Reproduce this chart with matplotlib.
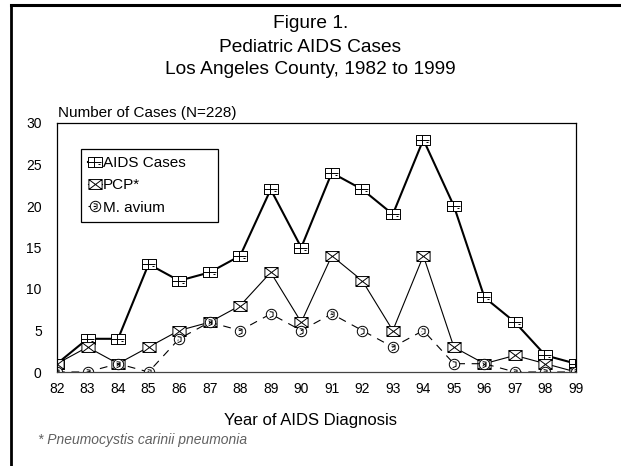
import numpy as np
import matplotlib
matplotlib.use('Agg')
from matplotlib import pyplot as plt
from matplotlib.path import Path
from matplotlib.lines import Line2D

plt.rcParams['font.family'] = ['Liberation Sans', 'DejaVu Sans']

years = [82, 83, 84, 85, 86, 87, 88, 89, 90, 91, 92, 93, 94, 95, 96, 97, 98, 99]
aids_cases = [1, 4, 4, 13, 11, 12, 14, 22, 15, 24, 22, 19, 28, 20, 9, 6, 2, 1]
pcp = [1, 3, 1, 3, 5, 6, 8, 12, 6, 14, 11, 5, 14, 3, 1, 2, 1, 0]
m_avium = [0, 0, 1, 0, 4, 6, 5, 7, 5, 7, 5, 3, 5, 1, 1, 0, 0, 0]
y_ticks = [0, 5, 10, 15, 20, 25, 30]

# custom markers roughly like the old spreadsheet glyphs
sq = [(-1, -0.75), (1, -0.75), (1, 0.75), (-1, 0.75), (-1, -0.75)]
box_x = Path(sq + [(-1, -0.75), (1, 0.75), (-1, 0.75), (1, -0.75)],
             [Path.MOVETO] + [Path.LINETO] * 4 + [Path.MOVETO, Path.LINETO, Path.MOVETO, Path.LINETO])
box_tick = Path(sq + [(-1, 0.0), (0.9, 0.0), (-0.1, 0.75), (-0.1, -0.75), (0.5, -0.3), (0.8, -0.3)],
                [Path.MOVETO] + [Path.LINETO] * 4 + [Path.MOVETO, Path.LINETO, Path.MOVETO, Path.LINETO,
                                                     Path.MOVETO, Path.LINETO])
circ = Path.unit_circle()
hook = Path([(-0.35, 0.55), (0.3, 0.45), (0.3, -0.35), (-0.35, -0.6)],
            [Path.MOVETO, Path.LINETO, Path.LINETO, Path.LINETO])
circ_hook = Path.make_compound_path(circ, hook)

fig = plt.figure(figsize=(6.21, 4.66), dpi=100)
# frame of the page: top and left edge only are visible
fig.add_artist(Line2D([11 / 621, 11 / 621], [0, 1 - 5 / 466], transform=fig.transFigure,
                      color='black', linewidth=2))
fig.add_artist(Line2D([11 / 621, 1], [1 - 5 / 466, 1 - 5 / 466], transform=fig.transFigure,
                      color='black', linewidth=2.2))

ax = fig.add_axes([57 / 621, 94 / 466, 519 / 621, 249 / 466])

ax.plot(years, aids_cases, color='black', linewidth=1.5, marker=box_tick, markersize=9.5,
        markerfacecolor='white', markeredgecolor='black', markeredgewidth=0.7, label='AIDS Cases')
ax.plot(years, pcp, color='black', linewidth=0.8, marker=box_x, markersize=9.5,
        markerfacecolor='white', markeredgecolor='black', markeredgewidth=0.7, label='PCP*')
ax.plot(years, m_avium, color='black', linewidth=0.8, dashes=(7, 6), marker=circ_hook, markersize=7.5,
        markerfacecolor='white', markeredgecolor='black', markeredgewidth=0.7, label='M. avium')

ax.set_xlim(82, 99)
ax.set_ylim(0, 30)
ax.set_xticks(years)
ax.set_yticks(y_ticks)
ax.tick_params(length=0, labelsize=10, pad=7)
ax.tick_params(axis='y', pad=11)
for s in ax.spines.values():
    s.set_linewidth(0.9)
ax.spines['bottom'].set_color('#444444')

leg = ax.legend(loc='upper left', bbox_to_anchor=(24 / 519, 0.4, 137 / 519, 1 - 26 / 249 - 0.4),
                mode='expand', fontsize=11, handlelength=0.9, handletextpad=0.1, borderpad=0.45,
                borderaxespad=0, labelspacing=0.55, fancybox=False, framealpha=1, edgecolor='black')
leg.get_frame().set_linewidth(0.9)

fig.text(0.5, 1 - 23 / 466, 'Figure 1.', ha='center', va='center', fontsize=13.8)
fig.text(0.5, 1 - 47 / 466, 'Pediatric AIDS Cases', ha='center', va='center', fontsize=13.8)
fig.text(0.5, 1 - 70 / 466, 'Los Angeles County, 1982 to 1999', ha='center', va='center', fontsize=13.8)
fig.text(58 / 621, 1 - 113 / 466, 'Number of Cases (N=228)', ha='left', va='center', fontsize=11)
fig.text(0.5, 1 - 420 / 466, 'Year of AIDS Diagnosis', ha='center', va='center', fontsize=12)
fig.text(38 / 621, 1 - 440 / 466, '* Pneumocystis carinii pneumonia', ha='left', va='center',
         fontsize=10, style='italic', color='#606060')

plt.savefig('out.png', dpi=100)
plt.close()
